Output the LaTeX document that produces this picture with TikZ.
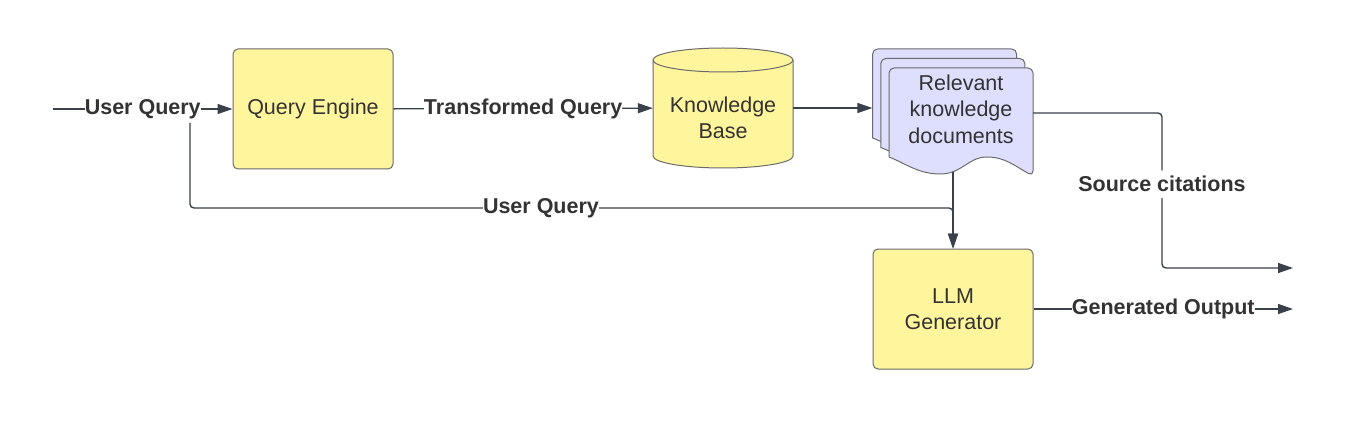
\documentclass[tikz,border=0pt]{standalone}
\usepackage{fontspec}
\setmainfont{Liberation Sans}
\usetikzlibrary{arrows.meta}
\definecolor{boxyellow}{HTML}{FFF59D}
\definecolor{docblue}{HTML}{DEDEFF}
\definecolor{edgegray}{HTML}{6B6B6B}
\definecolor{linedark}{HTML}{3A414A}
\definecolor{textdark}{HTML}{333333}
\begin{document}
\begin{tikzpicture}[x=1pt, y=-1pt, font=\fontsize{21.5}{26.5}\selectfont, text=textdark,
  ybox/.style={draw=edgegray, fill=boxyellow, line width=1pt, rounded corners=5pt, minimum width=160pt, minimum height=120pt, align=center},
  shapeline/.style={draw=edgegray, line width=1pt},
  conn/.style={draw=linedark, line width=1.4pt, -{Triangle[length=15pt,width=10pt]}},
  lbl/.style={fill=white, font=\fontsize{21.5}{26.5}\selectfont\bfseries, inner xsep=0pt, inner ysep=6pt},
  hull/.style={inner sep=0pt, minimum width=#1}]
\useasboundingbox (0,0) rectangle (1353,425);
\node[ybox] (P_0_0) at (313,109) {Query Engine};
\draw[shapeline, fill=boxyellow] (653,60) -- (653,156) arc[start angle=180, end angle=0, x radius=70, y radius=12] -- (793,60) arc[start angle=360, end angle=180, x radius=70, y radius=12] -- cycle;
\draw[shapeline] (653,60) arc[start angle=180, end angle=0, x radius=70, y radius=12];
\node[hull=140pt, minimum height=120pt] (P_1_0) at (723,108) {};
\node[align=center] (T_1_0) at (723,118) {Knowledge\\Base};
\foreach \s in {2,1,0}
  \draw[shapeline, fill=docblue, shift={(-8.2*\s,-9.5*\s)}] (889,157) [rounded corners=5pt] -- (889,68) -- (1033,68) -- (1033,176) [sharp corners] .. controls (1015,166) and (1005,157) .. (987,157) .. controls (968,157) and (962,174) .. (940,174) .. controls (918,174) and (905,163) .. (889,157) -- cycle;
\node[hull=144pt, minimum height=104pt] (D_0) at (944.6,101) {};
\node[hull=144pt, minimum height=104pt] (D_2) at (961,120) {};
\node[align=center] (P_2_0) at (961,109) {Relevant\\knowledge\\documents};
\node[ybox] (P_2_1) at (953,309) {LLM\\Generator};
\coordinate (C_start) at (53,109);
\coordinate (C_split) at (190,123);
\coordinate (C_turn) at (190,208);
\coordinate (C_cite) at (1162,268);
\coordinate (C_out1) at (1293,268);
\coordinate (C_out2) at (1293,309);
\draw[conn] (C_start) -- (P_0_0) node[midway, lbl] {User Query};
\draw[conn] (P_0_0) -- (P_1_0) node[midway, lbl] {Transformed Query};
\draw[conn] (P_1_0.east) -- (P_1_0.east -| D_0.west);
\draw[conn, rounded corners=4pt] (C_split) -- (C_turn) -| (P_2_1.north) node[pos=0.23, lbl] {User Query};
\draw[conn] (D_2.south -| P_2_1.north) -- (P_2_1.north);
\draw[conn, rounded corners=4pt] ([yshift=7pt]D_2.east) -| (C_cite) node[pos=0.73, lbl] {Source citations} -- (C_out1);
\draw[conn] (P_2_1.east) -- (C_out2) node[midway, lbl] {Generated Output};
\end{tikzpicture}
\end{document}
